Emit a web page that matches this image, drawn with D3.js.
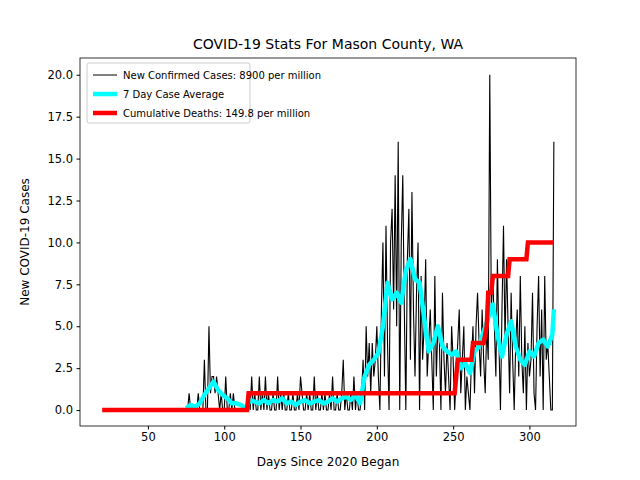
<!DOCTYPE html>
<html><head><meta charset="utf-8">
<script src="https://cdn.jsdelivr.net/npm/d3@7"></script>
<style>body{margin:0;background:#fff}text{font-family:"DejaVu Sans",sans-serif}</style>
</head><body><svg id="c" width="640" height="480"></svg>
<script>
// daily new cases, starting at day 75
var caseStart = 75;
var cases = [
 0,0,1,0,0,0,0,0,1,0, 0,0,3,0,0,5,1,2,2,1, 2,1,0,1,0,0,2,0,0,1, 0,1,0,0,0,0,0,0,0,0,
 0,1,0,2,0,1,0,0,2,0, 1,0,2,0,1,0,0,1,0,0, 2,0,1,0,1,0,0,1,0,0, 1,0,0,1,0,2,1,0,0,1,
 0,1,0,0,2,0,1,0,0,1, 0,1,0,0,1,0,2,0,0,1, 0,0,1,3,0,1,0,0,1,0, 2,0,1,0,0,1,3,0,5,2,
 4,1,4,2,3,5,2,0,6,10, 2,11,4,0,10,12,6,14,5,16, 0,10,14,6,0,9,12,3,13,6, 2,7,10,0,8,3,5,9,2,4,
 6,3,0,8,2,5,4,0,7,3, 1,4,2,0,5,3,0,2,4,6, 1,3,5,0,2,1,0,3,5,1, 5,7,4,2,6,3,1,5,3,20,
 6,8,5,2,9,4,0,6,11,4, 9,5,1,7,3,0,4,6,2,8, 3,1,5,0,4,2,3,7,1,0, 5,8,2,6,0,8,3,4,2,0, 0,16
];
var avgDays = [75,78,81,84,87,90,93,96,99,102,105,108,111,114,117,120,123,126,129,132,135,138,141,144,147,150,153,156,159,162,165,168,171,174,177,180,183,186,189,192,195,198,201,204,207,210,213,216,219,222,225,228,231,234,237,240,243,246,249,252,255,258,261,264,267,270,273,276,279,282,285,288,291,294,297,300,303,306,309,312,315,316];
var avgVals = [0.1,0.3,0.2,0.4,0.9,1.3,1.7,1.2,0.9,0.7,0.4,0.4,0.3,0.1,0.6,0.5,0.4,0.6,0.4,0.6,0.5,0.7,0.4,0.5,0.3,0.5,0.6,0.4,0.5,0.6,0.4,0.5,0.7,0.5,0.7,0.8,0.6,0.9,0.4,2,2.7,3,3.4,5,7.6,6.6,7,6.4,8.3,9,7.8,7.6,5.5,3.5,4,5,3.8,3.5,3.3,3.5,2.5,2.8,2.2,3.5,3.8,4.7,5.5,6.3,4.5,3.2,4.5,5.3,3.8,3,2.7,3.5,3.2,4,4.2,3.8,4.5,6];
var deathDays = [20,115,116,251,253,262,263,270,272,273,275,276,286,287,298,299,316];
var deathVals = [0,0,1,1,3,3,4,4,5,7,7,8,8,9,9,10,10];
var xTicks = [50,100,150,200,250,300];
var yTicks = [0,2.5,5,7.5,10,12.5,15,17.5,20];

var svg = d3.select("#c");
var L=80,R=576,T=58,B=426;
var x = d3.scaleLinear().domain([5.5,330.5]).range([L,R]);
var y = d3.scaleLinear().domain([-0.95,21]).range([B,T]);

var line = d3.line().x(d=>x(d[0])).y(d=>y(d[1]));
var g = svg.append("g").attr("clip-path","url(#cl)");
svg.append("clipPath").attr("id","cl").append("rect").attr("x",L).attr("y",T).attr("width",R-L).attr("height",B-T);
g.append("path").attr("d",line(cases.map((v,i)=>[caseStart+i,v]))).attr("fill","none").attr("stroke","#000").attr("stroke-width",1.1);
g.append("path").attr("d",line(avgDays.map((d,i)=>[d,avgVals[i]]))).attr("fill","none").attr("stroke","#00ffff").attr("stroke-width",4.5).attr("stroke-linejoin","round");
g.append("path").attr("d",line(deathDays.map((d,i)=>[d,deathVals[i]]))).attr("fill","none").attr("stroke","#ff0000").attr("stroke-width",4.5);

svg.append("rect").attr("x",L).attr("y",T).attr("width",R-L).attr("height",B-T).attr("fill","none").attr("stroke","#000").attr("stroke-width",0.8);
svg.append("g").attr("transform",`translate(0,${B})`).call(d3.axisBottom(x).tickValues(xTicks).tickSize(3.5).tickPadding(3.5))
  .call(a=>{a.select(".domain").remove();a.selectAll("text").attr("font-size",11.5).attr("fill","#000");});
svg.append("g").attr("transform",`translate(${L},0)`).call(d3.axisLeft(y).tickValues(yTicks).tickFormat(d3.format(".1f")).tickSize(3.5).tickPadding(3.5))
  .call(a=>{a.select(".domain").remove();a.selectAll("text").attr("font-size",11.5).attr("fill","#000");});

svg.append("text").attr("x",(L+R)/2).attr("y",49).attr("text-anchor","middle").attr("font-size",14).text("COVID-19 Stats For Mason County, WA");
svg.append("text").attr("x",(L+R)/2).attr("y",466).attr("text-anchor","middle").attr("font-size",12).text("Days Since 2020 Began");
svg.append("text").attr("transform",`translate(29,${(T+B)/2}) rotate(-90)`).attr("text-anchor","middle").attr("font-size",12).text("New COVID-19 Cases");

var leg = svg.append("g");
leg.append("rect").attr("x",87).attr("y",63).attr("width",163).attr("height",60).attr("rx",2).attr("fill","#fff").attr("stroke","#ccc");
var items=[["New Confirmed Cases: 8900 per million","#000",1],["7 Day Case Average","#00ffff",4.5],["Cumulative Deaths: 149.8 per million","#ff0000",4.5]];
items.forEach((it,i)=>{
  var yy=75+i*19;
  leg.append("line").attr("x1",93).attr("x2",117).attr("y1",yy).attr("y2",yy).attr("stroke",it[1]).attr("stroke-width",it[2]);
  leg.append("text").attr("x",123).attr("y",yy+4).attr("font-size",10).text(it[0]);
});
</script></body></html>
